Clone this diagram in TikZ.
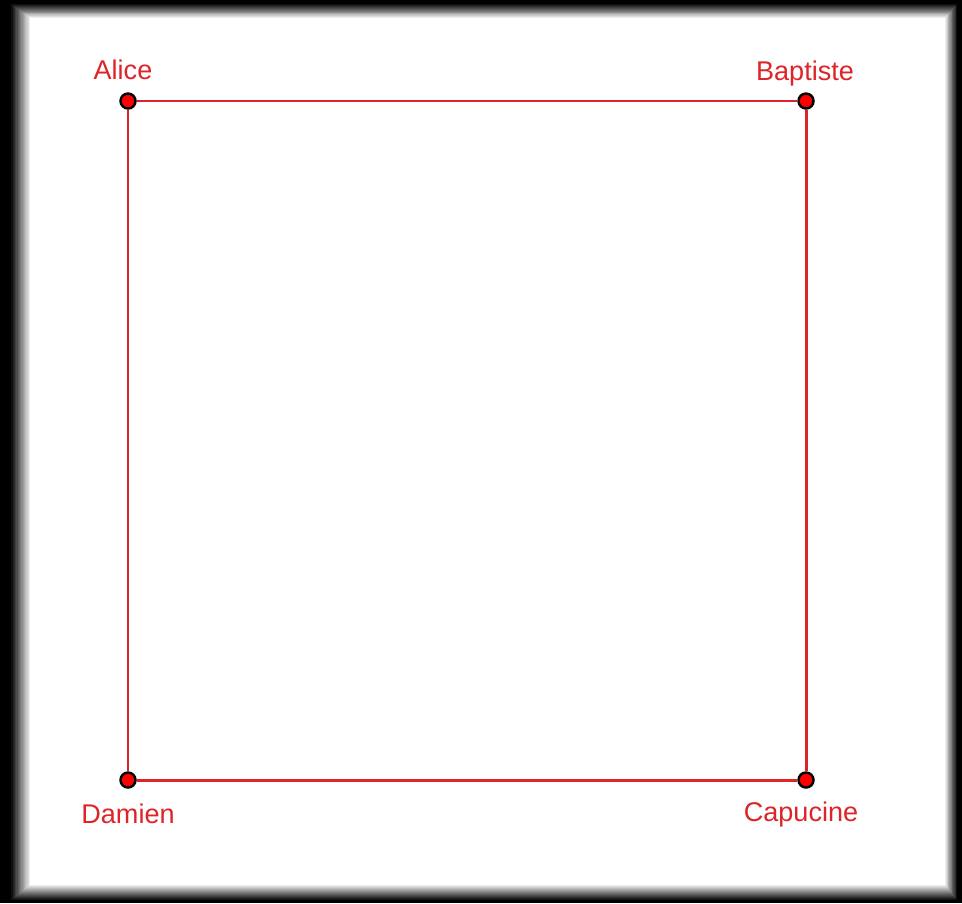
\documentclass[tikz,border=0pt]{standalone}
\usepackage{fontspec}
\setsansfont{Liberation Sans}
\usepackage{xcolor}
\definecolor{gred}{RGB}{222,36,40}
\definecolor{gdot}{RGB}{255,0,0}
\usetikzlibrary{positioning}
\tikzset{
  vertex/.style={circle,fill=gdot,draw=black,line width=1.4pt,inner sep=0pt,minimum size=0.3cm},
  person/.style={text=gred,font=\sffamily\fontsize{15.4}{18}\selectfont,anchor=base,inner sep=0pt},
  edge/.style={draw=gred,line width=1.7pt}
}
\begin{document}
\begin{tikzpicture}[x=0.02cm,y=-0.02cm]
  % frame
  \fill[black] (0,0) rectangle (962,903);
  \foreach \t in {1,...,16}
    \fill[white,opacity={1/(17-\t)}] (10+1.25*\t,3+0.95*\t) rectangle (958-0.8*\t,901-1*\t);
  % square
  \node[vertex] (alice) at (128,101) {};
  \node[vertex] (baptiste) at (806,101) {};
  \node[vertex] (capucine) at (806,780) {};
  \node[vertex] (damien) at (128,780) {};
  \draw[edge] (alice) -- (baptiste) -- (capucine) -- (damien) -- (alice);
  \node[person] (alicelbl) at (123,79) {Alice};
  \node[person] (baptistelbl) at (805,80) {Baptiste};
  \node[person] (capucinelbl) at (801,821) {Capucine};
  \node[person] (damienlbl) at (128,823) {Damien};
\end{tikzpicture}
\end{document}
